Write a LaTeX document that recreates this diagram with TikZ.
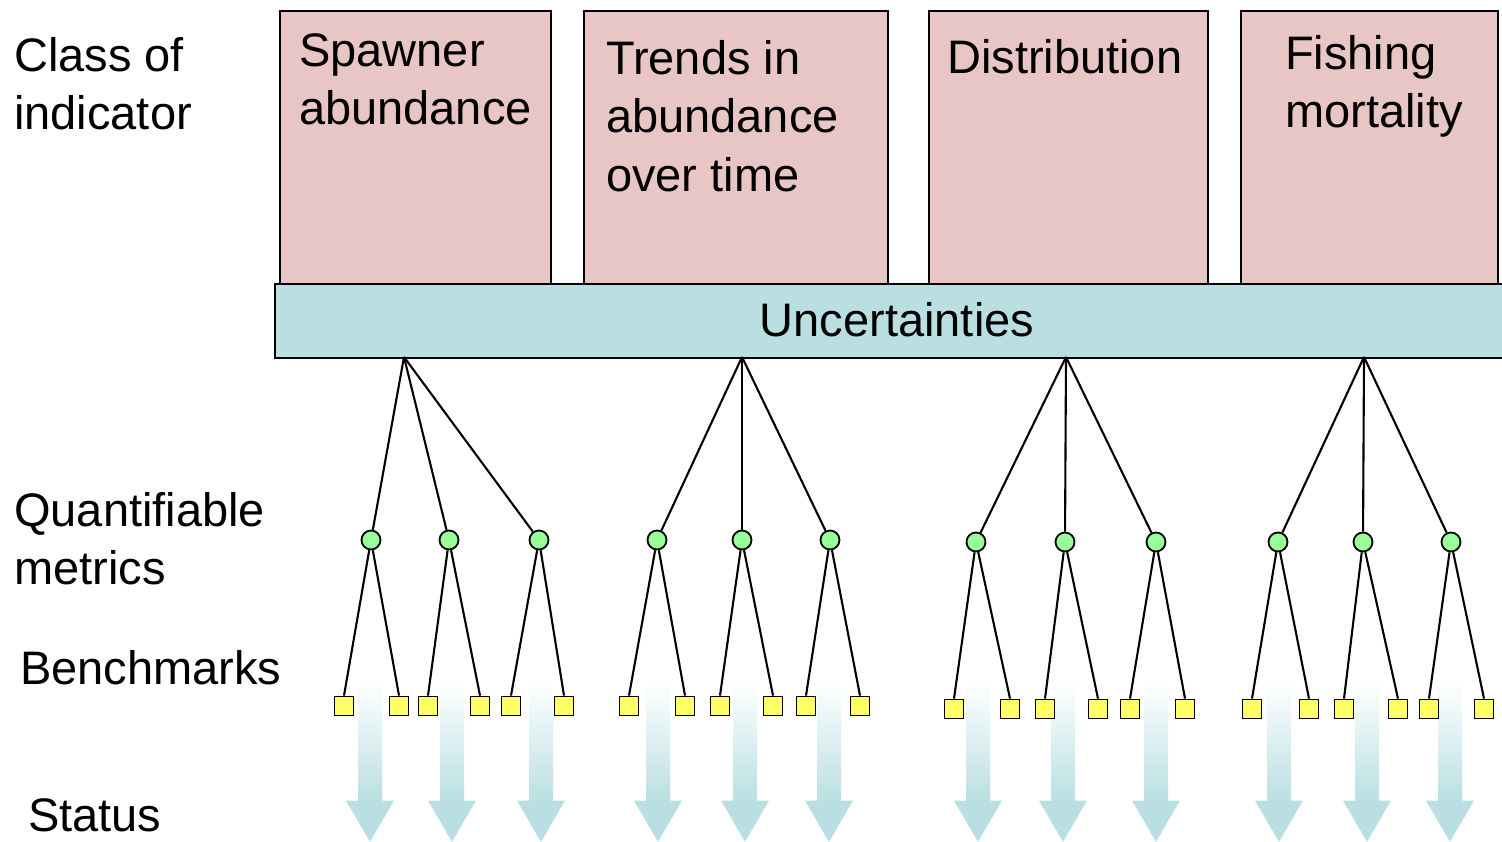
\documentclass[tikz,border=0pt]{standalone}
\usepackage{fontspec}
\setmainfont{Liberation Sans}
\usetikzlibrary{calc}
\definecolor{pinkc}{HTML}{E8C6C5}
\definecolor{barc}{HTML}{B9DFE2}
\definecolor{greenc}{HTML}{99FF99}
\definecolor{yellowc}{HTML}{FFFF66}
\definecolor{arrowc}{HTML}{BADFE2}
\begin{document}
\begin{tikzpicture}[x=1pt,y=-1pt,
  catbox/.style={draw, line width=2pt, fill=pinkc, anchor=north west, inner sep=0pt, minimum height=273pt},
  bigtext/.style={font=\fontsize{47}{58.5}\selectfont, align=left, anchor=north west, inner sep=0pt},
  metric/.style={circle, draw, line width=1.8pt, fill=greenc, minimum size=19pt, inner sep=0pt},
  bench/.style={rectangle, draw, line width=1.8pt, fill=yellowc, minimum size=19pt, inner sep=0pt},
  link/.style={line width=2.1pt},
]
\useasboundingbox (0,0) rectangle (1502,842);

% status arrows
\foreach \x in {370,452,541,658,745,829,978,1063,1156,1279,1367,1450}{
  \shade[top color=white, bottom color=arrowc] (\x-12,682) rectangle (\x+12,801);
  \fill[arrowc] (\x-24,800.5) -- (\x+24,800.5) -- (\x,842) -- cycle;
}

% class boxes
\node[catbox, minimum width=271pt] (b1) at (279,10) {};
\node[catbox, minimum width=304pt] (b2) at (583,10) {};
\node[catbox, minimum width=279pt] (b3) at (928,10) {};
\node[catbox, minimum width=257pt] (b4) at (1240,10) {};
\node[bigtext] (t1) at (299,33) {Spawner\\abundance};
\node[bigtext] (t2) at (606,40) {Trends in\\abundance\\over time};
\node[bigtext] (t3) at (947,39) {Distribution};
\node[bigtext] (t4) at (1285,35) {Fishing\\mortality};

% uncertainties bar
\node[draw, line width=2pt, fill=barc, anchor=north west, inner sep=0pt,
      minimum width=1240pt, minimum height=74pt] (bar) at (274,283) {};
\node[font=\fontsize{47}{58.5}\selectfont, inner sep=0pt] (unc) at (897,320) {Uncertainties};

% row labels
\node[bigtext] (l1) at (14,37) {Class of\\indicator};
\node[bigtext] (l2) at (14,492) {Quantifiable\\metrics};
\node[bigtext] (l3) at (20,650) {Benchmarks};
\node[bigtext] (l4) at (28,798) {Status};

% roots
\coordinate (r1) at (404,357);
\coordinate (r2) at (742,357);
\coordinate (r3) at (1066,357);
\coordinate (r4) at (1364,357);

% tree 1
\node[metric] (m11) at (371,540) {};
\node[metric] (m12) at (449,540) {};
\node[metric] (m13) at (539,540) {};
\node[bench] (s111) at (344,706) {};
\node[bench] (s112) at (399,706) {};
\node[bench] (s121) at (428,706) {};
\node[bench] (s122) at (480,706) {};
\node[bench] (s131) at (511,706) {};
\node[bench] (s132) at (564,706) {};
% tree 2
\node[metric] (m21) at (657,540) {};
\node[metric] (m22) at (742,540) {};
\node[metric] (m23) at (830,540) {};
\node[bench] (s211) at (629,706) {};
\node[bench] (s212) at (685,706) {};
\node[bench] (s221) at (720,706) {};
\node[bench] (s222) at (773,706) {};
\node[bench] (s231) at (806,706) {};
\node[bench] (s232) at (860,706) {};
% tree 3
\node[metric] (m31) at (976,542) {};
\node[metric] (m32) at (1065,542) {};
\node[metric] (m33) at (1156,542) {};
\node[bench] (s311) at (954,709) {};
\node[bench] (s312) at (1010,709) {};
\node[bench] (s321) at (1045,709) {};
\node[bench] (s322) at (1098,709) {};
\node[bench] (s331) at (1130,709) {};
\node[bench] (s332) at (1185,709) {};
% tree 4
\node[metric] (m41) at (1278,542) {};
\node[metric] (m42) at (1363,542) {};
\node[metric] (m43) at (1451,542) {};
\node[bench] (s411) at (1252,709) {};
\node[bench] (s412) at (1309,709) {};
\node[bench] (s421) at (1344,709) {};
\node[bench] (s422) at (1398,709) {};
\node[bench] (s431) at (1429,709) {};
\node[bench] (s432) at (1484,709) {};

\foreach \t in {1,2,3,4}{
  \foreach \m in {1,2,3}{
    \draw[link] (r\t) -- (m\t\m);
    \draw[link] (m\t\m) -- (s\t\m1.north);
    \draw[link] (m\t\m) -- (s\t\m2.north);
  }
}
\end{tikzpicture}
\end{document}
